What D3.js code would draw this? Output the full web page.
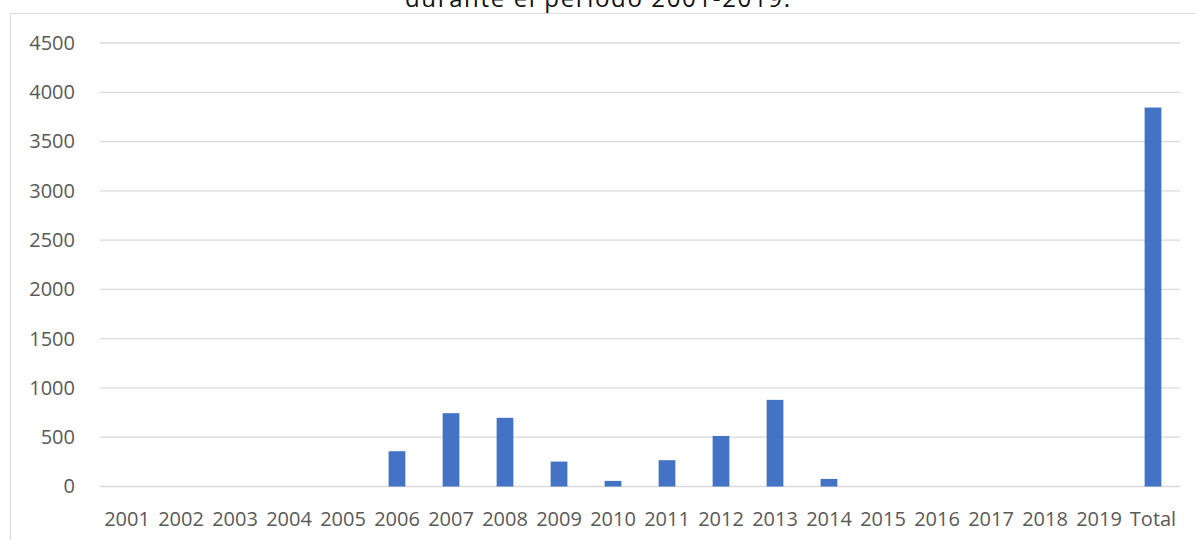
<!DOCTYPE html>
<html>
<head>
<meta charset="utf-8">
<script src="https://cdn.jsdelivr.net/npm/d3@7"></script>
<style>
  html, body { margin: 0; padding: 0; background: #fff; }
  svg { display: block; }
  text { font-family: "Open Sans", "Noto Sans", sans-serif; }
</style>
</head>
<body>
<svg id="chart" width="1196" height="540"></svg>
<script>
// Annual counts 2001-2019 plus the period total
const categories = ["2001","2002","2003","2004","2005","2006","2007","2008","2009","2010",
                    "2011","2012","2013","2014","2015","2016","2017","2018","2019","Total"];
const values = [0, 0, 0, 0, 0, 358, 744, 697, 253, 57,
                267, 513, 879, 77, 0, 0, 0, 0, 0, 3845];
const yTicks = [0, 500, 1000, 1500, 2000, 2500, 3000, 3500, 4000, 4500];
const titleText = "durante el periodo 2001-2019.";

const svg = d3.select("#chart");
const W = 1196, H = 540;
const plot = { left: 100, right: 1180, top: 43, bottom: 486.5 };

// Last line of the title, sitting above the chart frame
svg.append("text")
  .attr("x", 405).attr("y", 7)
  .attr("textLength", 385)
  .attr("lengthAdjust", "spacing")
  .attr("font-size", 24)
  .attr("fill", "#111")
  .text(titleText);

// Chart frame (left and top edges)
svg.append("line").attr("x1", 10.5).attr("x2", 10.5).attr("y1", 13.5).attr("y2", H)
  .attr("stroke", "#d9d9d9").attr("stroke-width", 1.2);
svg.append("line").attr("x1", 10.5).attr("x2", W).attr("y1", 13.5).attr("y2", 13.5)
  .attr("stroke", "#d9d9d9").attr("stroke-width", 1.2);

const x = d3.scaleBand().domain(categories).range([plot.left, plot.right])
  .paddingInner(0.69).paddingOuter(0.345);
const y = d3.scaleLinear().domain([0, 4500]).range([plot.bottom, plot.top]);

// Horizontal gridlines
svg.append("g")
  .selectAll("line").data(yTicks).join("line")
  .attr("x1", plot.left).attr("x2", plot.right)
  .attr("y1", d => y(d)).attr("y2", d => y(d))
  .attr("stroke", "#d9d9d9").attr("stroke-width", 1.3);

// Y axis labels
const yAxis = d3.axisLeft(y).tickValues(yTicks).tickFormat(d3.format("d"))
  .tickSize(0).tickPadding(0);
svg.append("g")
  .attr("transform", "translate(75,0)")
  .call(yAxis)
  .call(g => g.select(".domain").remove())
  .call(g => g.selectAll("text")
    .attr("font-size", 20).attr("fill", "#595959")
    .attr("font-family", "'Open Sans', sans-serif"));

// Bars
svg.append("g")
  .selectAll("rect").data(categories).join("rect")
  .attr("x", d => x(d))
  .attr("width", x.bandwidth())
  .attr("y", (d, i) => y(values[i]))
  .attr("height", (d, i) => y(0) - y(values[i]))
  .attr("fill", "#4472c4");

// X axis labels
const xAxis = d3.axisBottom(x).tickSize(0).tickPadding(0);
svg.append("g")
  .attr("transform", `translate(0,${plot.bottom})`)
  .call(xAxis)
  .call(g => g.select(".domain").remove())
  .call(g => g.selectAll("text")
    .attr("dy", null).attr("y", 39)
    .attr("font-size", 20).attr("fill", "#595959")
    .attr("font-family", "'Open Sans', sans-serif"));
</script>
</body>
</html>
